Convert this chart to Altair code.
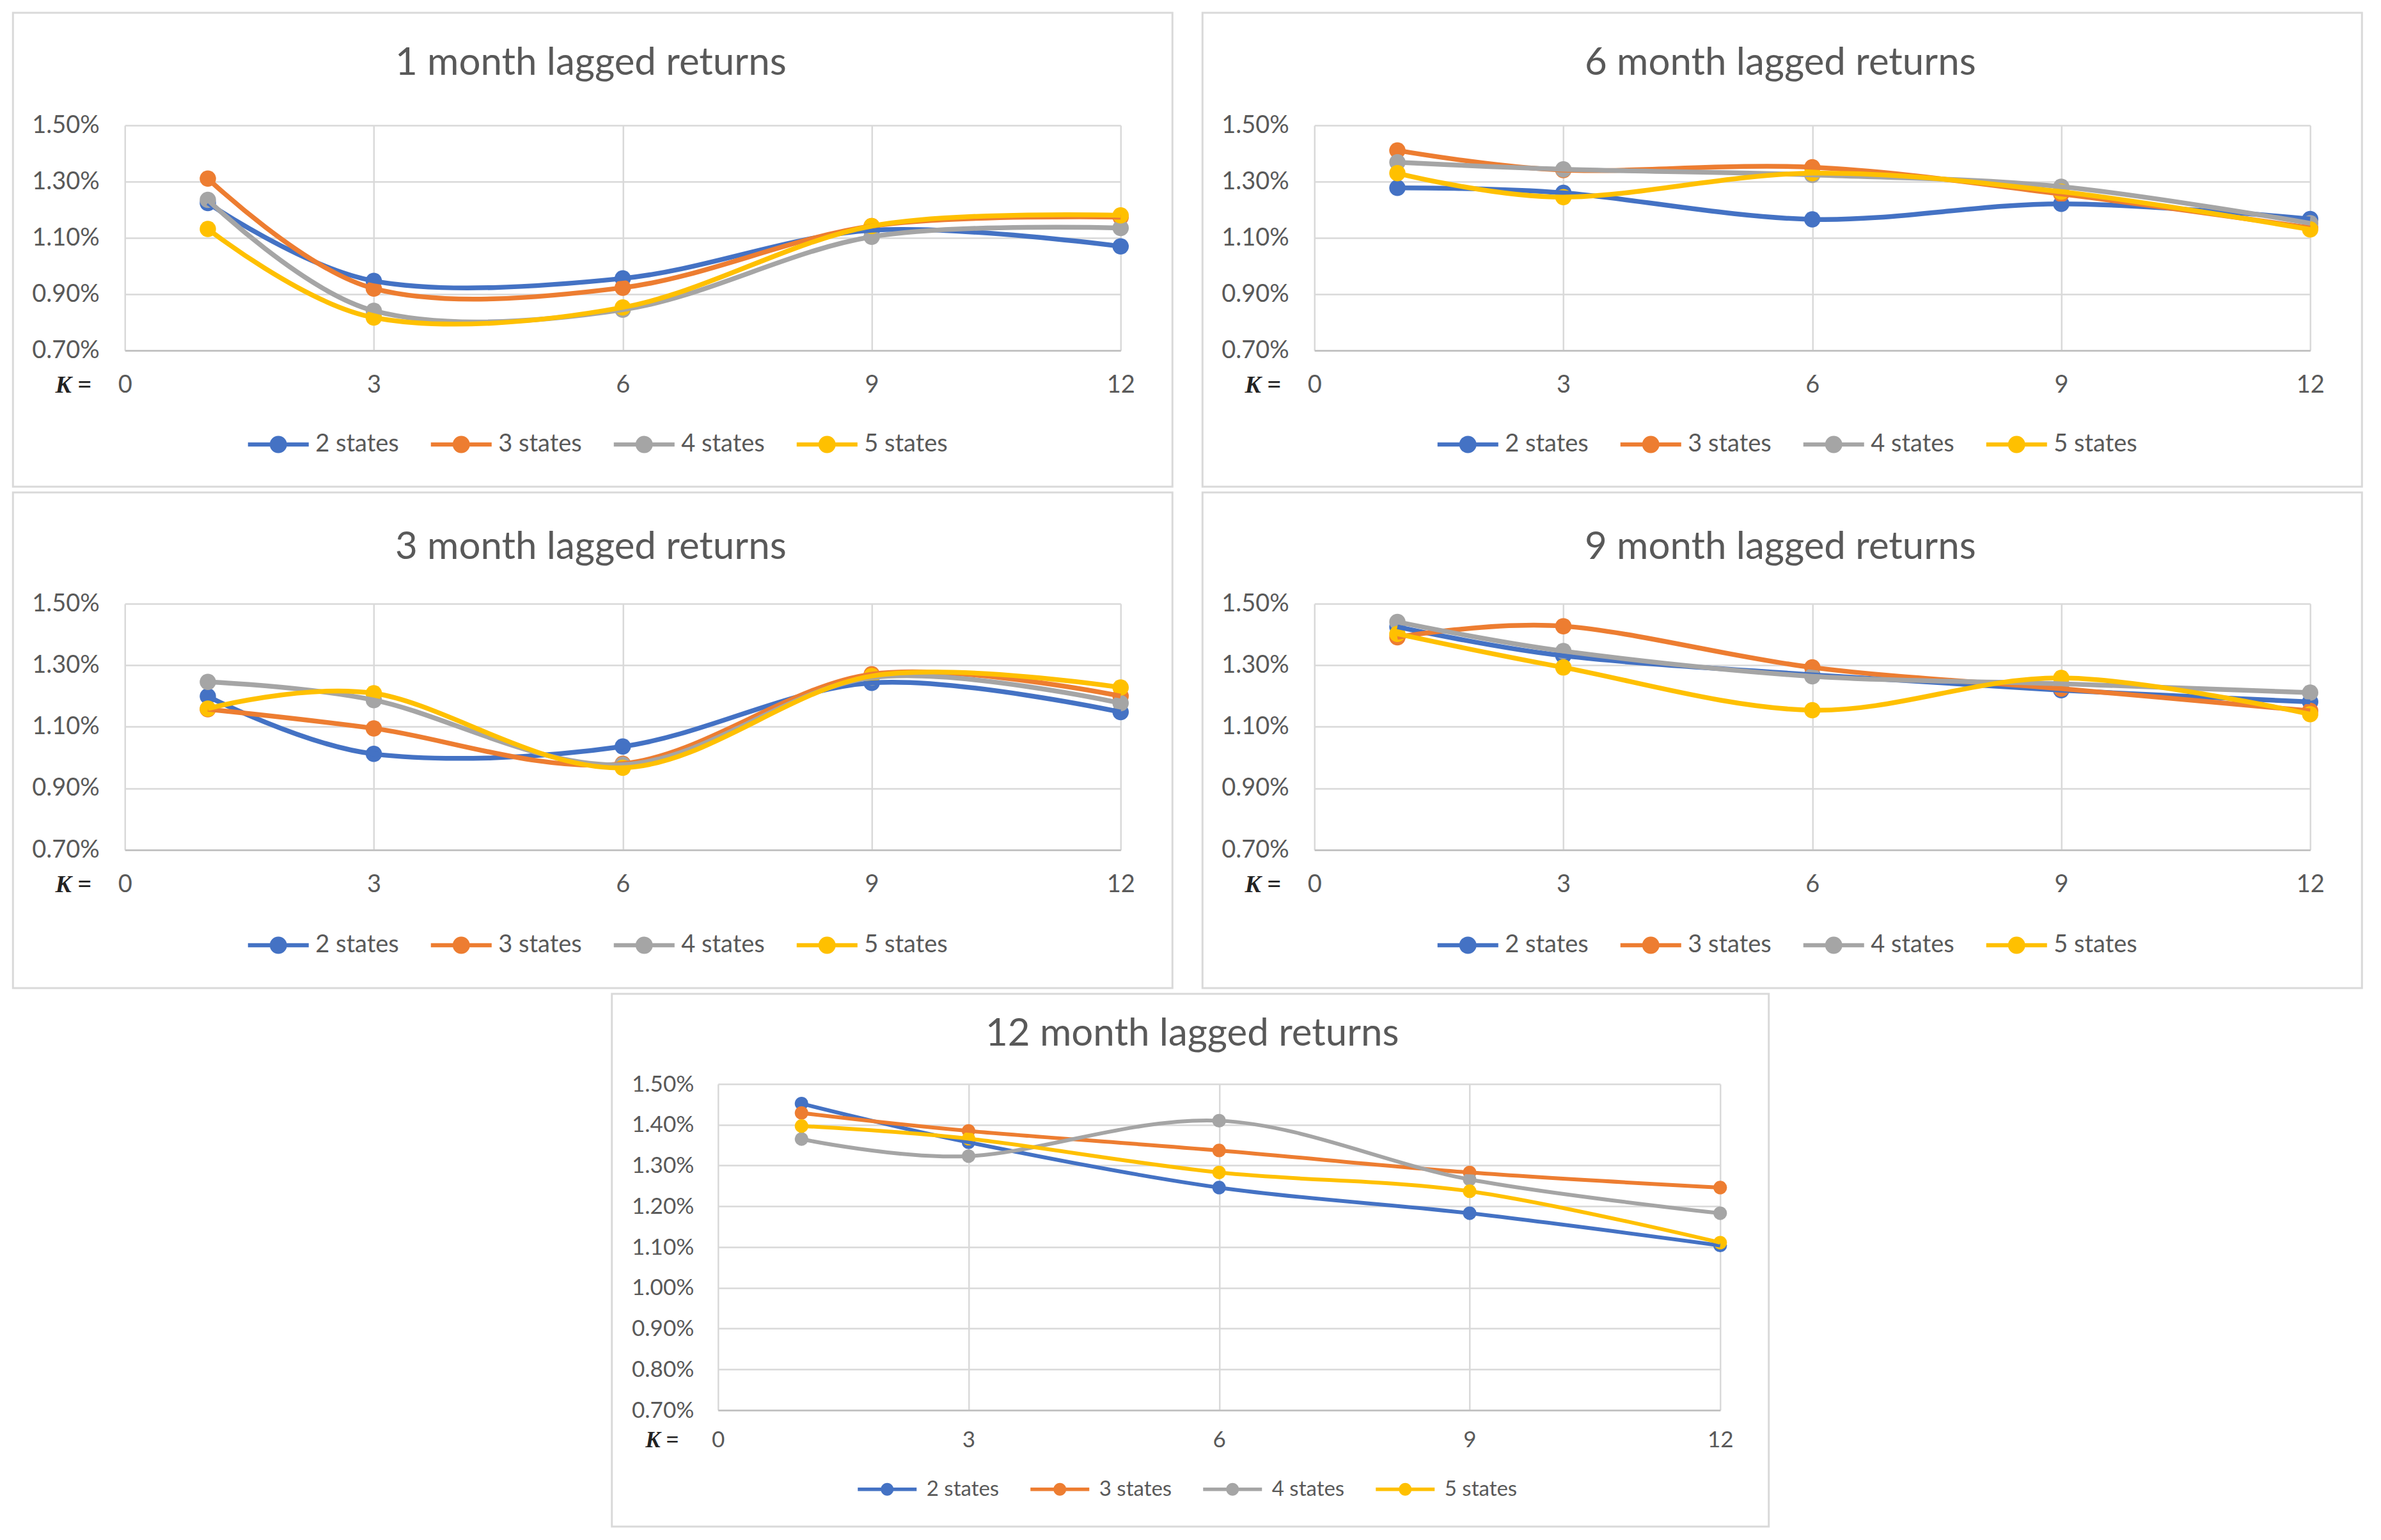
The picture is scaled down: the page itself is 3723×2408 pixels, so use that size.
import altair as alt
import pandas as pd

# ---------------- data (percent values) ----------------
K_VALUES = [1, 3, 6, 9, 12]
STATES = ["2 states", "3 states", "4 states", "5 states"]
COLORS = ["#4472C4", "#ED7D31", "#A5A5A5", "#FFC000"]
X_TICKS = [0, 3, 6, 9, 12]
Y_TICKS_WIDE = [0.70, 0.90, 1.10, 1.30, 1.50]
Y_TICKS_FINE = [0.70, 0.80, 0.90, 1.00, 1.10, 1.20, 1.30, 1.40, 1.50]

lag1 = {
    "2 states": [1.224, 0.947, 0.956, 1.127, 1.070],
    "3 states": [1.311, 0.920, 0.923, 1.142, 1.174],
    "4 states": [1.235, 0.841, 0.845, 1.104, 1.135],
    "5 states": [1.132, 0.817, 0.853, 1.142, 1.180],
}
lag6 = {
    "2 states": [1.278, 1.260, 1.166, 1.221, 1.167],
    "3 states": [1.411, 1.341, 1.351, 1.256, 1.136],
    "4 states": [1.369, 1.344, 1.324, 1.282, 1.152],
    "5 states": [1.330, 1.245, 1.330, 1.264, 1.130],
}
lag3 = {
    "2 states": [1.199, 1.012, 1.036, 1.243, 1.148],
    "3 states": [1.157, 1.095, 0.980, 1.271, 1.200],
    "4 states": [1.246, 1.187, 0.977, 1.260, 1.177],
    "5 states": [1.159, 1.209, 0.967, 1.265, 1.228],
}
lag9 = {
    "2 states": [1.425, 1.331, 1.269, 1.219, 1.181],
    "3 states": [1.391, 1.427, 1.293, 1.224, 1.152],
    "4 states": [1.441, 1.346, 1.264, 1.240, 1.211],
    "5 states": [1.402, 1.293, 1.154, 1.259, 1.141],
}
lag12 = {
    "2 states": [1.452, 1.357, 1.246, 1.183, 1.104],
    "3 states": [1.429, 1.385, 1.337, 1.283, 1.246],
    "4 states": [1.365, 1.323, 1.410, 1.266, 1.183],
    "5 states": [1.397, 1.366, 1.283, 1.237, 1.111],
}

FONT = "Lato"
TEXT_GREY = "#595959"
GRID = "#d9d9d9"


def legend_path(half_len, half_thick):
    return (f"M-{half_len},-{half_thick}H{half_len}V{half_thick}H-{half_len}Z "
            "M0,-1A1,1 0 1 1 0,1A1,1 0 1 1 0,-1Z")


def make_df(series):
    rows = []
    for s in STATES:
        for k, v in zip(K_VALUES, series[s]):
            rows.append({"K": k, "value": v / 100.0, "series": s})
    return pd.DataFrame(rows)


def panel(title, series, g):
    df = make_df(series)
    w, h = g["w"], g["h"]
    yticks = [t / 100.0 for t in g["yticks"]]
    x_enc = alt.X(
        "K:Q",
        scale=alt.Scale(domain=[0, 12], nice=False, zero=False),
        axis=alt.Axis(
            values=X_TICKS, format="d", labelFlush=False, ticks=False,
            domain=True, domainColor="#bfbfbf", domainWidth=2.5,
            grid=True, gridColor=GRID, gridWidth=2.5,
            labelPadding=g["xpad"], labelFontSize=g["fs"], labelColor=TEXT_GREY,
            labelFont=FONT,
            title="K =", titleX=g["kx"], titleY=g["xpad"], titleBaseline="top",
            titleAlign="center", titleFont="Liberation Serif", titleFontStyle="italic",
            titleFontWeight="bold", titleFontSize=g["fs"], titleColor="#222222",
        ),
    )
    y_enc = alt.Y(
        "value:Q",
        scale=alt.Scale(domain=[yticks[0], yticks[-1]], nice=False, zero=False),
        axis=alt.Axis(
            values=yticks, format=".2%", ticks=False, domain=False,
            grid=True, gridColor=GRID, gridWidth=2.5,
            labelPadding=g["ypad"], labelFontSize=g["fs"], labelColor=TEXT_GREY,
            labelFont=FONT, title=None,
        ),
    )
    cscale = alt.Scale(domain=STATES, range=COLORS)
    r = g["sr"]
    legend = alt.Legend(
        orient="none", legendX=g["lx"], legendY=h + g["ly"],
        direction="horizontal", title=None,
        symbolType=legend_path(round(g["sl"] / r, 3), round(g["st"] / r, 3)),
        symbolSize=(2 * r) ** 2,
        symbolOffset=g["sl"] - r, labelOffset=g["lo"],
        columnPadding=g["cp"], symbolOpacity=1, symbolStrokeWidth=0,
        labelFontSize=g["lfs"], labelColor=TEXT_GREY, labelFont=FONT,
        padding=0,
    )
    base = alt.Chart(df).encode(x=x_enc, y=y_enc)

    points = base.mark_point(filled=True, size=g["ps"], opacity=1).encode(
        color=alt.Color("series:N", scale=cscale, legend=legend)
    )
    lines = base.mark_line(interpolate="cardinal", strokeWidth=g["sw"]).encode(
        color=alt.Color("series:N", scale=cscale),
        detail="series:N",
    )
    frame = alt.Chart(pd.DataFrame({"f": [0]})).mark_rect(
        fill="transparent", stroke="#d9d9d9", strokeWidth=3
    ).encode(
        x=alt.value(g["fx"]), x2=alt.value(w + g["fx2"]),
        y=alt.value(g["fy"]), y2=alt.value(h + g["fy2"]),
    )
    return alt.layer(frame, points, lines).properties(
        width=w, height=h,
        title=alt.TitleParams(
            text=title, fontSize=60, font=FONT, color=TEXT_GREY,
            fontWeight="normal", frame="group", offset=0,
            dy=-g["to"] - (g["fy"] - 1.5), dx=g["tdx"],
            anchor="middle",
        ),
    )


ROW1 = dict(w=1557, h=352, yticks=Y_TICKS_WIDE, xpad=35, ypad=40, fs=38, lfs=38,
            kx=-81, sw=7.5, ps=650, lx=187, ly=128,
            sr=13.5, sl=47.5, st=3.2, lo=39, cp=44,
            fx=-175, fx2=81, fy=-176, fy2=213, to=66, tdx=-50)
ROW2 = dict(ROW1, h=385, fy=-174, fy2=216, to=57, ly=130)
ROW3 = dict(w=1567, h=510, yticks=Y_TICKS_FINE, xpad=29, ypad=38, fs=35, lfs=33,
            kx=-88, sw=6, ps=450, lx=212, ly=107,
            sr=10, sl=46, st=2.7, lo=45, cp=42,
            fx=-166, fx2=76, fy=-141, fy2=182, to=47, tdx=-42)

p1 = panel("1 month lagged returns", lag1, ROW1)
p6 = panel("6 month lagged returns", lag6, ROW1)
p3 = panel("3 month lagged returns", lag3, ROW2)
p9 = panel("9 month lagged returns", lag9, ROW2)
p12 = panel("12 month lagged returns", lag12, ROW3)

row1 = alt.hconcat(p1, p6, spacing=43).resolve_scale(
    x="independent", y="independent", color="independent"
).resolve_legend(color="independent")
row2 = alt.hconcat(p3, p9, spacing=43).resolve_scale(
    x="independent", y="independent", color="independent"
).resolve_legend(color="independent")

chart = alt.vconcat(row1, row2, p12, spacing=5, center=True).resolve_scale(
    x="independent", y="independent", color="independent"
).resolve_legend(color="independent").properties(
    padding={"left": 10, "top": 10, "right": 5, "bottom": 5},
    background="white",
).configure_view(stroke=None)

chart.save("out.html", embed_options={"renderer": "svg", "actions": False})
